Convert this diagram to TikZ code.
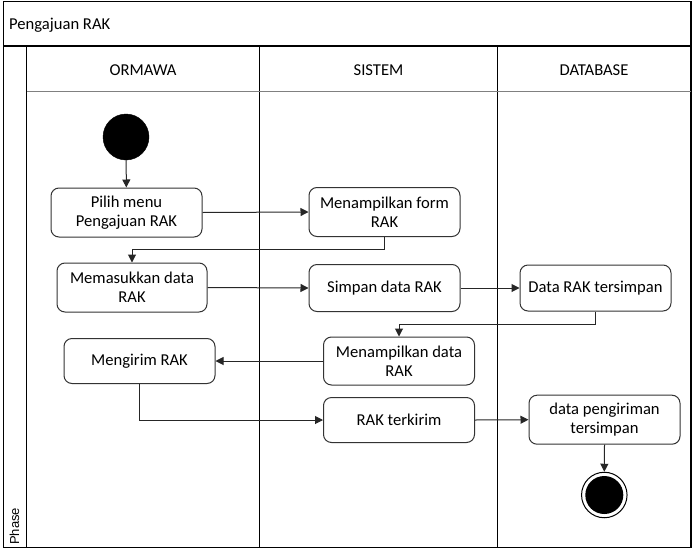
\documentclass[tikz,border=0pt]{standalone}
\usepackage{fontspec}
\setmainfont{Carlito}
\newfontfamily\phasefont{Liberation Sans}
\usetikzlibrary{arrows.meta}
\begin{document}
\begin{tikzpicture}[x=1pt,y=-1pt,
  font=\fontsize{16.6}{19.3}\selectfont,
  act/.style={draw=black!80, line width=1pt, rounded corners=8pt, align=center, inner sep=0pt},
  frame/.style={draw=black, line width=1.3pt},
  conn/.style={draw=black!85, line width=1pt, -{Triangle[length=8pt,width=8pt]}},
  lbl/.style={inner sep=0pt}
]
\useasboundingbox (0,0) rectangle (695,554);
% frame
\draw[frame] (3.5,1.5) rectangle (691,547.5);
\draw[frame] (3.5,46) -- (691,46);
\draw[frame] (26.5,46) -- (26.5,547.5);
\draw[frame] (259.5,46) -- (259.5,547.5);
\draw[frame] (497.5,46) -- (497.5,547.5);
\draw[draw=black!50, line width=1.8pt] (26.5,91.5) -- (691,91.5);
% labels
\node[lbl, anchor=west] (title) at (9,25) {Pengajuan RAK};
\node[lbl] (hOrm) at (143,70) {ORMAWA};
\node[lbl] (hSis) at (378.5,70) {SISTEM};
\node[lbl] (hDb) at (594,70) {DATABASE};
\node[lbl, rotate=90, anchor=west, font=\phasefont\fontsize{13}{14}\selectfont] (phase) at (14.5,545) {Phase};
% nodes
\node[circle, fill=black, draw=black, minimum size=46pt, inner sep=0pt] (start) at (126,137) {};
\node[act, minimum width=151pt, minimum height=49pt] (b1) at (126.5,212.5) {Pilih menu\\Pengajuan RAK};
\node[act, minimum width=151pt, minimum height=49pt] (b2) at (384.5,212) {Menampilkan form\\RAK};
\node[act, minimum width=150pt, minimum height=49pt] (b3) at (132,287.5) {Memasukkan data\\RAK};
\node[act, minimum width=151pt, minimum height=47pt] (b4) at (384.5,288) {Simpan data RAK};
\node[act, minimum width=151pt, minimum height=46pt] (b5) at (595.5,288) {Data RAK tersimpan};
\node[act, minimum width=151pt, minimum height=48pt] (b6) at (399,361) {Menampilkan data\\RAK};
\node[act, minimum width=151pt, minimum height=45pt] (b7) at (139.5,361) {Mengirim RAK};
\node[act, minimum width=151pt, minimum height=45pt] (b8) at (399,420) {RAK terkirim};
\node[act, minimum width=151pt, minimum height=49pt] (b9) at (604.5,419.7) {data pengiriman\\tersimpan};
\node[circle, draw=black, line width=1pt, minimum size=45.5pt, inner sep=0pt] (end) at (604.3,495) {};
\node[circle, fill=black, minimum size=38pt, inner sep=0pt] (endin) at (604.3,495) {};
% connectors
\draw[conn] (start) -- (b1);
\draw[conn] (b1.east) -- (b2.west);
\draw[conn] (b2.south) -- ++(0,12) -| (b3.north);
\draw[conn] (b3.east) -- (b4.west);
\draw[conn] (b4.east) -- (b5.west);
\draw[conn] (b5.south) -- ++(0,13) -| (b6.north);
\draw[conn] (b6.west) -- (b7.east);
\draw[conn] (b7.south) |- (b8.west);
\draw[conn] (b8.east) -- (b9.west);
\draw[conn] (b9.south) -- (end.north);
\end{tikzpicture}
\end{document}
